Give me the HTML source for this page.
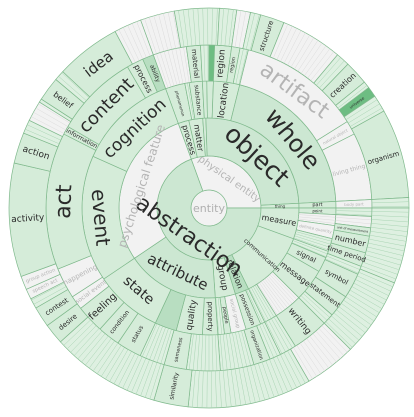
<!DOCTYPE html>
<html><head><meta charset="utf-8">
<style>
html,body{margin:0;padding:0;background:#fff;}
svg{display:block;font-family:"DejaVu Sans","Liberation Sans",sans-serif;}
</style></head>
<body>
<svg id="chart" width="414" height="417" viewBox="0 0 414 417" xmlns="http://www.w3.org/2000/svg"></svg>
<script>
const ringRadii = [0, 18, 52, 90, 127, 163, 200];
const segRing  = [];
const segStart = [];
const segEnd   = [];
const segLabel = [];
const segShade = [];
const segSize  = [];
const segOrient= [];
function S(r,a,b,l,sh,fs,o){segRing.push(r);segStart.push(a);segEnd.push(b);segLabel.push(l);segShade.push(sh);segSize.push(fs);segOrient.push(o);}
S(1,-20,90,'physical entity','g',10,'t');
S(1,90,340,'abstraction','m',22,'t');
S(2,-20,-13,'process','l',8,'r');
S(2,-13,-4,'matter','l',8,'r');
S(2,-4,-2,'','l',0,'r');
S(2,-2,87,'object','m',25,'t');
S(2,87,90,'thing','l',4,'r');
S(2,90,110,'measure','l',8,'r');
S(2,110,154,'communication','l',6,'r');
S(2,154,163,'relation','d',8,'r');
S(2,163,176,'group','l',9,'r');
S(2,176,236,'attribute','m',15,'t');
S(2,236,340,'psychological feature','g',12,'t');
S(3,-20,-11,'phenomenon','l',4,'r');
S(3,-11,-9,'','f',0,'r');
S(3,-9,-3,'substance','l',6,'r');
S(3,-3,-1,'','l',0,'r');
S(3,-1,2,'','l',0,'r');
S(3,2,14,'location','l',9,'r');
S(3,14,87,'whole','m',24,'t');
S(3,87,90,'part','l',5,'r');
S(3,90,93,'point','l',4,'r');
S(3,93,98,'','g',0,'r');
S(3,98,104,'definite quantity','g',4,'r');
S(3,104,110,'','f',0,'r');
S(3,110,113,'','f',0,'r');
S(3,113,120,'signal','l',7,'r');
S(3,120,135,'message','l',8,'r');
S(3,135,148,'','g',0,'r');
S(3,148,154,'','f',0,'r');
S(3,154,156,'','f',0,'r');
S(3,156,163,'possession','l',6,'r');
S(3,163,170,'social group','g',5,'r');
S(3,170,173,'people','l',5,'r');
S(3,173,176,'','f',0,'r');
S(3,176,183,'property','l',7,'r');
S(3,183,195,'quality','l',9,'r');
S(3,195,205,'','d',0,'r');
S(3,205,236,'state','l',14,'t');
S(3,236,294,'event','l',20,'t');
S(3,294,340,'cognition','l',17,'t');
S(4,-20,-8,'','g',0,'r');
S(4,-8,-3,'material','l',7,'r');
S(4,-3,0,'','f',0,'r');
S(4,0,2,'','x',0,'r');
S(4,2,8,'region','l',9,'r');
S(4,8,11,'region','l',5,'r');
S(4,11,14,'','f',0,'r');
S(4,14,58,'artifact','g',22,'t');
S(4,58,63,'natural object','g',4,'r');
S(4,63,87,'living thing','g',6,'r');
S(4,87,90,'body part','g',4,'r');
S(4,90,93,'','f',0,'r');
S(4,93,97,'','g',0,'r');
S(4,97,100,'unit of measurement','l',3,'r');
S(4,100,106,'number','l',8,'r');
S(4,106,111,'time period','l',7,'r');
S(4,111,114,'','f',0,'r');
S(4,114,123,'symbol','l',7,'r');
S(4,123,131,'statement','l',7,'r');
S(4,131,135,'','f',0,'r');
S(4,135,148,'writing','l',9,'r');
S(4,148,154,'','f',0,'r');
S(4,154,158,'','f',0,'r');
S(4,158,164,'organization','l',5,'r');
S(4,164,176,'','f',0,'r');
S(4,176,188,'','f',0,'r');
S(4,188,196,'sameness','l',5,'r');
S(4,196,205,'','f',0,'r');
S(4,205,214,'status','l',6,'r');
S(4,214,222,'condition','l',6,'r');
S(4,222,232,'feeling','l',10,'r');
S(4,232,237,'social event','g',6,'r');
S(4,237,248,'happening','g',7,'r');
S(4,248,297,'act','l',22,'t');
S(4,297,300,'information','l',6,'r');
S(4,300,330,'content','l',18,'t');
S(4,330,336,'process','l',8,'r');
S(4,336,340,'ability','d',6,'r');
S(5,-20,-10,'','g',0,'r');
S(5,-10,3,'','f',0,'r');
S(5,3,8,'','f',0,'r');
S(5,8,12,'','g',0,'r');
S(5,12,15,'','f',0,'r');
S(5,15,22,'structure','l',7,'r');
S(5,22,40,'','g',0,'r');
S(5,40,44,'','f',0,'r');
S(5,44,51,'creation','l',8,'r');
S(5,51,53,'','f',0,'r');
S(5,53,56,'universe','x',4,'r');
S(5,56,61,'','f',0,'r');
S(5,61,87,'organism','l',7,'r');
S(5,87,90,'','f',0,'r');
S(5,90,112,'','f',0,'r');
S(5,112,135,'','f',0,'r');
S(5,135,150,'','g',0,'r');
S(5,150,186,'','f',0,'r');
S(5,186,196,'similarity','l',6,'r');
S(5,196,228,'','f',0,'r');
S(5,228,234,'desire','l',7,'r');
S(5,234,240,'contest','l',7,'r');
S(5,240,243,'','f',0,'r');
S(5,243,246,'speech act','g',5,'r');
S(5,246,250,'group action','g',5,'r');
S(5,250,283,'activity','l',9,'r');
S(5,283,292,'action','l',9,'r');
S(5,292,296,'','f',0,'r');
S(5,296,302,'','g',0,'r');
S(5,302,303,'','f',0,'r');
S(5,303,310,'belief','l',8,'r');
S(5,310,313,'','f',0,'r');
S(5,313,332,'idea','l',15,'t');
S(5,332,340,'','g',0,'r');

const cx = 209, cy = 208;
const fills = {g:'#f2f2f2', l:'#d5ecd9', m:'#cce7d2', d:'#b8dec1', f:'#def0e1', x:'#6dbd82'};
const NS = 'http://www.w3.org/2000/svg';
const svg = document.getElementById('chart');
function pt(r,a){const t=a*Math.PI/180;return [cx+r*Math.sin(t), cy-r*Math.cos(t)];}
function arcPath(r0,r1,a0,a1){
  const p0=pt(r1,a0),p1=pt(r1,a1),p2=pt(r0,a1),p3=pt(r0,a0);
  const lg=(a1-a0)>180?1:0;
  return `M${p0[0]},${p0[1]}A${r1},${r1} 0 ${lg} 1 ${p1[0]},${p1[1]}L${p2[0]},${p2[1]}A${r0},${r0} 0 ${lg} 0 ${p3[0]},${p3[1]}Z`;
}
const gSeg=document.createElementNS(NS,'g');


svg.appendChild(gSeg);
const gTxt=document.createElementNS(NS,'g');


svg.appendChild(gTxt);
const c=document.createElementNS(NS,'circle');
c.setAttribute('cx',cx);c.setAttribute('cy',cy);c.setAttribute('r',ringRadii[1]);
c.setAttribute('fill','#f2f2f2');c.setAttribute('stroke','#9cc9a6');c.setAttribute('stroke-width','0.8');


gSeg.appendChild(c);
const ct=document.createElementNS(NS,'text');
ct.setAttribute('x',cx);ct.setAttribute('y',cy+4);ct.setAttribute('text-anchor','middle');
ct.setAttribute('font-size','11');ct.setAttribute('fill','#b0b0b0');ct.textContent='entity';


gTxt.appendChild(ct);
function norm(a){a=((a%360)+360)%360;if(a>180)a-=360;return a;}
for(let i=0;i<segRing.length;i++){
  const r0=ringRadii[segRing[i]], r1=ringRadii[segRing[i]+1];
  const p=document.createElementNS(NS,'path');
  p.setAttribute('d',arcPath(r0,r1,segStart[i],segEnd[i]));
  p.setAttribute('fill',fills[segShade[i]]);
  p.setAttribute('stroke','#7fb98c');
  p.setAttribute('stroke-width','0.7');
  
  
  gSeg.appendChild(p);
  if(!segLabel[i] && (segShade[i]==='f'||segShade[i]==='g') && segRing[i]>=3){
    for(let a=segStart[i]+1.2;a<segEnd[i];a+=1.4){
      const q0=pt(r0,a),q1=pt(r1,a);
      const ln=document.createElementNS(NS,'line');
      ln.setAttribute('x1',q0[0]);ln.setAttribute('y1',q0[1]);ln.setAttribute('x2',q1[0]);ln.setAttribute('y2',q1[1]);
      ln.setAttribute('stroke',segShade[i]==='g'?'#dcdcdc':'#a9d4b3');
      ln.setAttribute('stroke-width','0.5');
      
      
      gSeg.appendChild(ln);
    }
  }
  if(!segLabel[i]||!segSize[i]) continue;
  const am=(segStart[i]+segEnd[i])/2, rm=(r0+r1)/2;
  const q=pt(rm,am);
  let rot;
  if(segOrient[i]==='t'){const n=norm(am);rot=(n>=-90&&n<=90)?n:n-180;}
  else{const n=norm(am);rot=(n>=0)?n-90:n+90;}
  const t=document.createElementNS(NS,'text');
  t.setAttribute('x',q[0]);t.setAttribute('y',q[1]);
  t.setAttribute('text-anchor','middle');
  t.setAttribute('dominant-baseline','central');
  t.setAttribute('font-size',segSize[i]);
  t.setAttribute('fill',segShade[i]==='g'?'#b4b4b4':'#2a2a2a');
  t.setAttribute('transform',`rotate(${rot} ${q[0]} ${q[1]})`);
  t.textContent=segLabel[i];
  
  
  gTxt.appendChild(t);
}
</script>
</body></html>
